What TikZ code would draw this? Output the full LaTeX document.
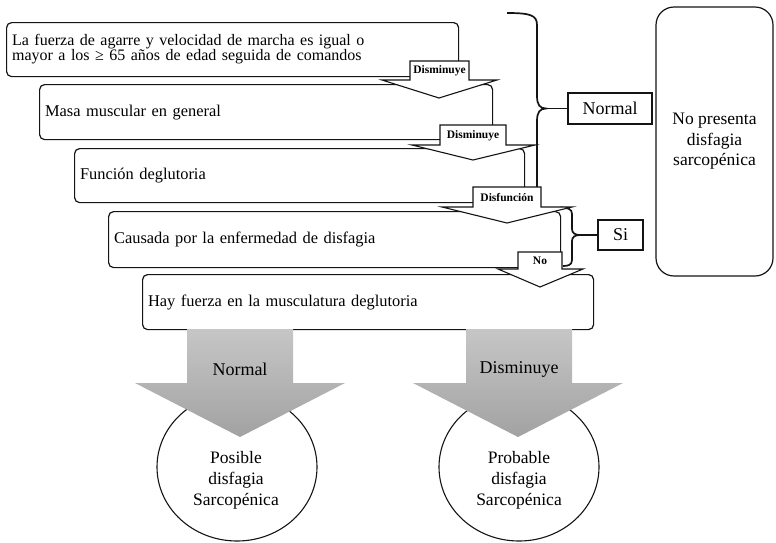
\documentclass[tikz,border=0pt]{standalone}
\usepackage{fontspec}
\setmainfont{Liberation Serif}
\usetikzlibrary{shapes.geometric}
\definecolor{ln}{RGB}{20,20,20}
\definecolor{gtop}{RGB}{198,198,198}
\definecolor{gbot}{RGB}{162,162,162}
\begin{document}
\begin{tikzpicture}[x=1pt,y=-1pt,
  box/.style={draw=ln, line width=1.2pt, rounded corners=5pt, fill=white, anchor=north west,
    inner xsep=5.5pt, inner ysep=0pt, align=left, font=\fontsize{16.4}{15.5}\selectfont},
  callout/.style={draw=ln, line width=1.1pt, fill=white, line join=miter},
  lab/.style={font=\bfseries\fontsize{11.5}{12}\selectfont, inner sep=0pt},
  plain/.style={draw=ln, line width=1.2pt, inner sep=0pt, font=\fontsize{18}{20}\selectfont},
  brace/.style={draw=ln, line width=1.7pt},
  garrow/.style={top color=gtop, bottom color=gbot, draw=none},
  circ/.style={draw=ln, line width=1.1pt, ellipse, inner sep=0pt, minimum width=160pt, minimum height=148pt},
  ctext/.style={align=center, font=\fontsize{17.5}{21}\selectfont, inner sep=0pt},
  glabel/.style={font=\fontsize{18}{20}\selectfont, inner sep=0pt}
]
\useasboundingbox (0,0) rectangle (776,542);

% main boxes
\node[box, text width=441pt, minimum height=54pt] (b1) at (6,22)
  {\begin{tabular}{@{}l@{}}\fontsize{16}{15.5}\selectfont La fuerza de agarre y velocidad de marcha es igual o\\\fontsize{16}{15.5}\selectfont mayor a los ≥ 65 años de edad seguida de comandos\end{tabular}};
\node[box, text width=442pt, minimum height=55pt] (b2) at (39,84) {Masa muscular en general};
\node[box, text width=439pt, minimum height=54pt] (b3) at (74,148) {Función deglutoria};
\node[box, text width=441pt, minimum height=56pt] (b4) at (108,211) {Causada por la enfermedad de disfagia};
\node[box, text width=440pt, minimum height=55pt] (b5) at (142,274) {Hay fuerza en la musculatura deglutoria};

% right boxes
\node[draw=ln, line width=1.2pt, rounded corners=18pt, minimum width=117pt, minimum height=269pt,
  inner sep=0pt, align=center, font=\fontsize{17.5}{20.5}\selectfont] (np) at (714.5,141.5)
  {No presenta\\disfagia\\sarcopénica};
\node[plain, minimum width=84pt, minimum height=31pt] (nrm) at (610,108.5) {Normal};
\node[plain, minimum width=45pt, minimum height=30pt] (si) at (620.5,235) {Si};

% braces
\coordinate (br1) at (546,108.5);
\draw[brace] (507,13) .. controls (530,13) and (537,15) .. (537,25) -- (537,96)
  .. controls (537,105) and (540,108.5) .. (br1)
  .. controls (540,108.5) and (537,112) .. (537,121) -- (537,197)
  .. controls (537,205) and (533,207) .. (527,207);
\draw[brace] (br1) -- (nrm.west);
\coordinate (br2) at (580,235);
\draw[brace] (560,207.5) .. controls (568,207.5) and (572,209) .. (572,214) -- (572,229)
  .. controls (572,233) and (575,235) .. (br2)
  .. controls (575,235) and (572,237) .. (572,241) -- (572,260)
  .. controls (572,265) and (568,266) .. (563,266);
\draw[brace] (br2) -- (si.west);

% callout arrows
\draw[callout] (410,61) -- (469,61) -- (469,80) -- (497,80) -- (439,98) -- (382,80) -- (410,80) -- cycle;
\node[lab] (l1) at (439.5,71) {Disminuye};
\draw[callout] (440,125) -- (506,125) -- (506,145) -- (535,145) -- (473,160) -- (412,145) -- (440,145) -- cycle;
\node[lab] (l2) at (473,135.5) {Disminuye};
\draw[callout] (473,187) -- (541,187) -- (541,207) -- (572,207) -- (507,223) -- (442,207) -- (473,207) -- cycle;
\node[lab] (l3) at (507,197.5) {Disfunción};
\draw[callout] (518,252) -- (562,252) -- (562,269) -- (583,269) -- (540,287) -- (498,269) -- (518,269) -- cycle;
\node[lab] (l4) at (540,261) {No};

% circles
\node[circ] (c1) at (237,467) {};
\node[circ] (c2) at (519,467) {};

% gray arrows
\shade[garrow] (187,329) -- (293,329) -- (293,383) -- (345,383) -- (240,437) -- (135,383) -- (187,383) -- cycle;
\shade[garrow] (466,329) -- (572,329) -- (572,383) -- (623,383) -- (518,437) -- (413,383) -- (466,383) -- cycle;
\node[glabel] (g1) at (240,369) {Normal};
\node[glabel] (g2) at (519,369) {Disminuye};

\node[ctext] (t1) at (236,480) {Posible\\disfagia\\Sarcopénica};
\node[ctext] (t2) at (519,480) {Probable\\disfagia\\Sarcopénica};
\end{tikzpicture}
\end{document}
